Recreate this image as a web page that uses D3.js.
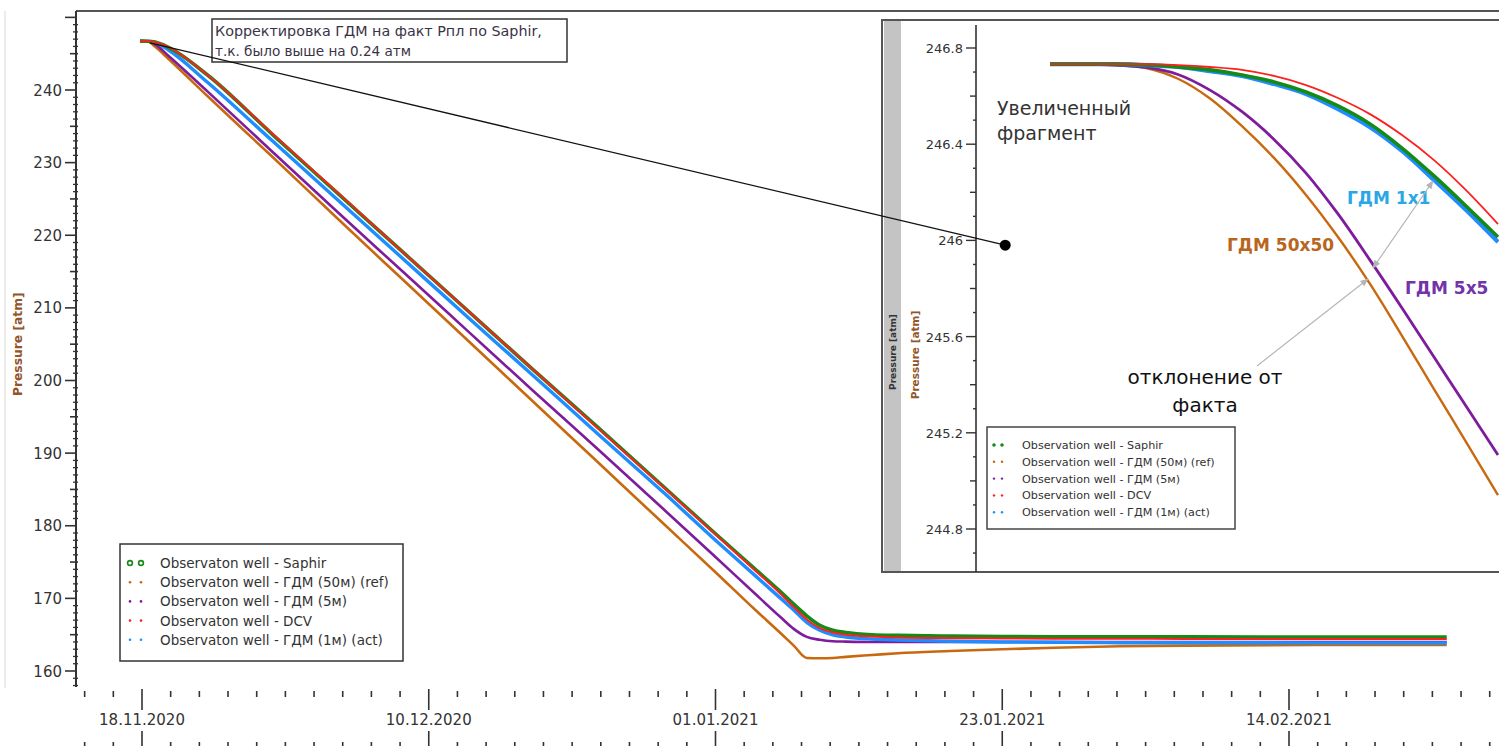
<!DOCTYPE html>
<html><head><meta charset="utf-8">
<script src="https://cdn.jsdelivr.net/npm/d3@7"></script>
<style>body{margin:0;background:#fff}svg{display:block}</style>
</head><body>
<svg id="c" width="1499" height="746"></svg>
<script>
// ---------------- DATA ----------------
const mainLegendLabels = ["Observaton well - Saphir","Observaton well - ГДМ (50м) (ref)","Observaton well - ГДМ (5м)","Observaton well - DCV","Observaton well - ГДМ (1м) (act)"];
const insetLegendLabels = ["Observation well - Saphir","Observation well - ГДМ (50м) (ref)","Observation well - ГДМ (5м)","Observation well - DCV","Observation well - ГДМ (1м) (act)"];
const seriesColors = ["#168a16","#c9690f","#7e1c9c","#ff1f1f","#1f8cff"];
const xTickLabels = ["18.11.2020","10.12.2020","01.01.2021","23.01.2021","14.02.2021"];
const yTickLabels = [160,170,180,190,200,210,220,230,240];
const insetYTickLabels = [244.8,245.2,245.6,246,246.4,246.8];

// days since 18.11.2020
const mainDays = [-0.15,0.5,1,2,5,10,15,20,25,30,35,40,44,47,49,50,51,52,53,54,56,58,62,66,70,75,80,90,100.1];
const mainSaphir = [246.73,246.72,246.6,245.9,242.1,233.9,225.8,217.7,209.6,201.5,193.5,185.4,178.9,174.1,170.9,169.2,167.6,166.3,165.6,165.3,165.0,164.9,164.8,164.75,164.72,164.7,164.7,164.68,164.68];
const main50m = [246.73,246.66,245.98,244.33,239.2,230.8,222.3,213.9,205.5,197.1,188.7,180.3,173.6,168.5,165.2,163.5,161.8,161.75,161.8,161.95,162.2,162.45,162.75,163.0,163.2,163.4,163.5,163.6,163.6];
const main5m = [246.73,246.68,246.3,244.75,239.85,231.5,223.2,215.0,206.8,198.6,190.5,182.3,175.7,170.7,167.4,165.8,164.7,164.3,164.1,164.05,164.0,164.0,164.0,164.0,164.0,164.0,164.0,164.0,164.0];
const mainDCV = [246.73,246.72,246.62,245.95,242.1,234.0,225.9,217.7,209.6,201.5,193.4,185.3,178.8,173.9,170.6,168.8,167.1,165.9,165.3,165.0,164.75,164.62,164.52,164.48,164.45,164.43,164.42,164.41,164.41];
const main1m = [246.73,246.7,246.55,245.55,241.1,233.0,224.9,216.8,208.7,200.7,192.6,184.6,178.0,173.2,170.0,168.4,166.7,165.6,164.96,164.68,164.4,164.27,164.1,164.0,163.95,163.9,163.9,163.87,163.86];

// inset: hours from start of the enlarged fragment
const insetHours = [0,2,4,6,8,10,12,14,16,18,20,22,24,26,28];
const insetSaphir = [246.733,246.733,246.733,246.729,246.721,246.709,246.688,246.659,246.617,246.559,246.484,246.384,246.268,246.143,246.014];
const inset50m = [246.733,246.733,246.729,246.717,246.672,246.590,246.475,246.343,246.189,246.014,245.819,245.603,245.382,245.162,244.941];
const inset5m = [246.733,246.733,246.729,246.719,246.690,246.625,246.535,246.420,246.280,246.110,245.918,245.719,245.515,245.311,245.108];
const insetDCV = [246.733,246.733,246.733,246.733,246.729,246.721,246.709,246.684,246.646,246.592,246.525,246.438,246.334,246.209,246.068];
const inset1m = [246.733,246.733,246.733,246.729,246.721,246.704,246.684,246.650,246.609,246.546,246.471,246.372,246.251,246.126,245.993];

// ---------------- DRAW ----------------
const FONT = "DejaVu Sans, Verdana, sans-serif";
const svg = d3.select("#c");
const DAY = 864e5;
const t0 = Date.UTC(2020,10,18);
const dayToDate = d => new Date(t0 + d*DAY);

const x = d3.scaleUtc().domain([new Date(t0), new Date(Date.UTC(2021,1,14))]).range([142,1289]);
const y = d3.scaleLinear().domain([160,240]).range([671,90]);

// faint left line and frame
svg.append("line").attr("x1",5).attr("x2",5).attr("y1",y(250.9)).attr("y2",y(157.7)).attr("stroke","#e6e6e6").attr("stroke-width",1.5);
svg.append("line").attr("x1",76).attr("x2",1499).attr("y1",11).attr("y2",11).attr("stroke","#555").attr("stroke-width",2);

// y axis
const yAx = svg.append("g").attr("stroke","#333");
yAx.append("line").attr("x1",76).attr("x2",76).attr("y1",11).attr("y2",y(157.8)).attr("stroke-width",2);
yAx.selectAll("line.mn").data(d3.range(158,251,1)).join("line").attr("class","mn")
  .attr("x1",d=> d%10===0?65:(d%5===0?70:73)).attr("x2",d=> d%10===0?76:78)
  .attr("y1",d=>y(d)).attr("y2",d=>y(d)).attr("stroke-width",d=>d%5===0?1.6:1.3);
svg.selectAll("text.yl").data(yTickLabels).join("text").attr("class","yl")
  .attr("x",62).attr("y",d=>y(d)+5.5).attr("text-anchor","end")
  .attr("font-family",FONT).attr("font-size",15).attr("fill","#333").text(d=>d);
svg.append("text").attr("transform",`translate(22,${(y(210)+y(200))/2}) rotate(-90)`)
  .attr("text-anchor","middle").attr("font-family",FONT).attr("font-weight","bold")
  .attr("font-size",12.3).attr("fill","#93552a").text("Pressure [atm]");

// x axis (two tick rows)
const majorDays = [0,22,44,66,88];
const minorDays = d3.range(-2,48).map(k=>k*2.2);
const xAx = svg.append("g").attr("stroke","#333").attr("stroke-width",1.6);
xAx.selectAll("line.t1").data(minorDays).join("line").attr("class","t1")
  .attr("x1",d=>x(dayToDate(d))).attr("x2",d=>x(dayToDate(d)))
  .attr("y1",(d,i)=> (i-2)%10===0?689:691).attr("y2",(d,i)=> (i-2)%10===0?710:697);
xAx.selectAll("line.t2").data(minorDays).join("line").attr("class","t2")
  .attr("x1",d=>x(dayToDate(d))).attr("x2",d=>x(dayToDate(d)))
  .attr("y1",(d,i)=> (i-2)%10===0?731:742).attr("y2",746);
svg.selectAll("text.xl").data(majorDays).join("text").attr("class","xl")
  .attr("x",d=>x(dayToDate(d))).attr("y",725).attr("text-anchor","middle")
  .attr("font-family",FONT).attr("font-size",15).attr("fill","#333").text((d,i)=>xTickLabels[i]);

// main lines
const mainSeries = [
  {vals:main50m, c:seriesColors[1], w:2.6},
  {vals:main5m, c:seriesColors[2], w:2.6},
  {vals:main1m, c:seriesColors[4], w:3.4},
  {vals:mainSaphir, c:seriesColors[0], w:3.6},
  {vals:mainDCV, c:seriesColors[3], w:2.0},
];
const mLine = d3.line().x(d=>x(dayToDate(d[0]))).y(d=>y(d[1])).curve(d3.curveMonotoneX);
svg.selectAll("path.m").data(mainSeries).join("path").attr("class","m")
  .attr("d",s=>mLine(mainDays.map((d,i)=>[d,s.vals[i]])))
  .attr("fill","none").attr("stroke",s=>s.c).attr("stroke-width",s=>s.w).attr("stroke-linejoin","round");

// main legend
const lg = svg.append("g");
lg.append("rect").attr("x",120).attr("y",544).attr("width",283).attr("height",117)
  .attr("fill","#fff").attr("stroke","#333").attr("stroke-width",1.5);
mainLegendLabels.forEach((lab,i)=>{
  const yy = 563 + i*19.2;
  const c = seriesColors[i];
  [130,141].forEach(cx=>{
    if(i===0) lg.append("circle").attr("cx",cx).attr("cy",yy).attr("r",2.4).attr("fill","none").attr("stroke",c).attr("stroke-width",1.6);
    else lg.append("circle").attr("cx",cx).attr("cy",yy).attr("r",1.3).attr("fill",c);
  });
  lg.append("text").attr("x",160).attr("y",yy+5).attr("font-family",FONT).attr("font-size",13.5).attr("fill","#333").text(lab);
});

// annotation box
svg.append("rect").attr("x",212).attr("y",19).attr("width",355).attr("height",43)
  .attr("fill","#fff").attr("stroke","#333").attr("stroke-width",1.5);
svg.append("text").attr("x",215).attr("y",36).attr("font-family",FONT).attr("font-size",14.3).attr("fill","#3a3346").text("Корректировка ГДМ на факт Рпл по Saphir,");
svg.append("text").attr("x",215).attr("y",56).attr("font-family",FONT).attr("font-size",13.6).attr("fill","#3a3346").text("т.к. было выше на 0.24 атм");

// ---------------- INSET ----------------
const ix = d3.scaleLinear().domain([0,28]).range([1050,1498]);
const iy = d3.scaleLinear().domain([246.8,244.8]).range([48,529]);
const ins = svg.append("g");
ins.append("rect").attr("x",882).attr("y",20).attr("width",640).attr("height",552)
  .attr("fill","#fff").attr("stroke","#555").attr("stroke-width",2);
ins.append("rect").attr("x",884).attr("y",21).attr("width",17).attr("height",550).attr("fill","#c4c4c4");
ins.append("text").attr("transform","translate(896,352) rotate(-90)").attr("text-anchor","middle")
  .attr("font-family",FONT).attr("font-weight","bold").attr("font-size",9).attr("fill","#333").text("Pressure [atm]");
ins.append("text").attr("transform","translate(919,355) rotate(-90)").attr("text-anchor","middle")
  .attr("font-family",FONT).attr("font-weight","bold").attr("font-size",10.5).attr("fill","#93552a").text("Pressure [atm]");
ins.append("line").attr("x1",976).attr("x2",976).attr("y1",25).attr("y2",572).attr("stroke","#333").attr("stroke-width",1.6);
const iTicks = d3.range(0,22).map(k=>+(244.7+k*0.1).toFixed(1));
ins.selectAll("line.it").data(iTicks).join("line").attr("class","it")
  .attr("x1",d=> Math.round(d*10)%4===0?966:(Math.round(d*10)%2===0?970:973)).attr("x2",976)
  .attr("y1",d=>iy(d)).attr("y2",d=>iy(d)).attr("stroke","#333").attr("stroke-width",1.4);
ins.selectAll("text.iyl").data(insetYTickLabels).join("text").attr("class","iyl")
  .attr("x",963).attr("y",d=>iy(d)+5).attr("text-anchor","end")
  .attr("font-family",FONT).attr("font-size",13).attr("fill","#333").text(d=>d);

svg.append("clipPath").attr("id","ic").append("rect").attr("x",977).attr("y",21).attr("width",530).attr("height",550);
const insetSeries = [
  {vals:inset50m, c:seriesColors[1], w:2.4},
  {vals:inset5m, c:seriesColors[2], w:2.8},
  {vals:inset1m, c:seriesColors[4], w:4.2},
  {vals:insetSaphir, c:seriesColors[0], w:3.6},
  {vals:insetDCV, c:seriesColors[3], w:1.8},
];
const iLine = d3.line().x(d=>ix(d[0])).y(d=>iy(d[1])).curve(d3.curveCatmullRom.alpha(0.5));
ins.append("g").attr("clip-path","url(#ic)").selectAll("path").data(insetSeries).join("path")
  .attr("d",s=>iLine(insetHours.map((h,i)=>[h,s.vals[i]])))
  .attr("fill","none").attr("stroke",s=>s.c).attr("stroke-width",s=>s.w);

// inset texts
ins.append("text").attr("x",997).attr("y",115).attr("font-family",FONT).attr("font-size",19).attr("fill","#333").text("Увеличенный");
ins.append("text").attr("x",997).attr("y",140).attr("font-family",FONT).attr("font-size",19).attr("fill","#333").text("фрагмент");
ins.append("text").attr("x",1347).attr("y",204).attr("font-family",FONT).attr("font-size",17).attr("font-weight","bold").attr("fill","#2aa8e6").text("ГДМ 1x1");
ins.append("text").attr("x",1227).attr("y",251).attr("font-family",FONT).attr("font-size",17).attr("font-weight","bold").attr("fill","#b8651e").text("ГДМ 50x50");
ins.append("text").attr("x",1405).attr("y",294).attr("font-family",FONT).attr("font-size",17).attr("font-weight","bold").attr("fill","#7234a8").text("ГДМ 5x5");
ins.append("text").attr("x",1205).attr("y",384).attr("text-anchor","middle").attr("font-family",FONT).attr("font-size",20).attr("fill","#111").text("отклонение от");
ins.append("text").attr("x",1205).attr("y",412).attr("text-anchor","middle").attr("font-family",FONT).attr("font-size",20).attr("fill","#111").text("факта");

// arrows
const defs = svg.append("defs");
defs.append("marker").attr("id","ah").attr("viewBox","0 0 10 10").attr("refX",9).attr("refY",5)
  .attr("markerWidth",9).attr("markerHeight",7).attr("orient","auto-start-reverse")
  .append("path").attr("d","M0,1 L10,5 L0,9 Z").attr("fill","#b5b5b5");
ins.append("line").attr("x1",1373).attr("y1",268).attr("x2",1433).attr("y2",181)
  .attr("stroke","#b5b5b5").attr("stroke-width",1.2).attr("marker-start","url(#ah)").attr("marker-end","url(#ah)");
ins.append("line").attr("x1",1257).attr("y1",366).attr("x2",1368).attr("y2",279)
  .attr("stroke","#b5b5b5").attr("stroke-width",1.2).attr("marker-end","url(#ah)");

// inset legend
const il = ins.append("g");
il.append("rect").attr("x",987).attr("y",427).attr("width",248).attr("height",102)
  .attr("fill","#fff").attr("stroke","#444").attr("stroke-width",1.5);
insetLegendLabels.forEach((lab,i)=>{
  const yy = 445 + i*16.8;
  [994,1002].forEach(cx=> il.append("circle").attr("cx",cx).attr("cy",yy).attr("r",i===0?1.8:1.2).attr("fill",seriesColors[i]));
  il.append("text").attr("x",1022).attr("y",yy+4).attr("font-family",FONT).attr("font-size",11.2).attr("fill","#333").text(lab);
});

// connector from main chart start to the enlarged fragment
svg.append("line").attr("x1",x(dayToDate(0.6))).attr("y1",y(246.5)).attr("x2",ix(-2.8)).attr("y2",iy(245.98))
  .attr("stroke","#111").attr("stroke-width",1.3);
svg.append("circle").attr("cx",ix(-2.8)).attr("cy",iy(245.98)).attr("r",5.5).attr("fill","#000");
</script>
</body></html>
